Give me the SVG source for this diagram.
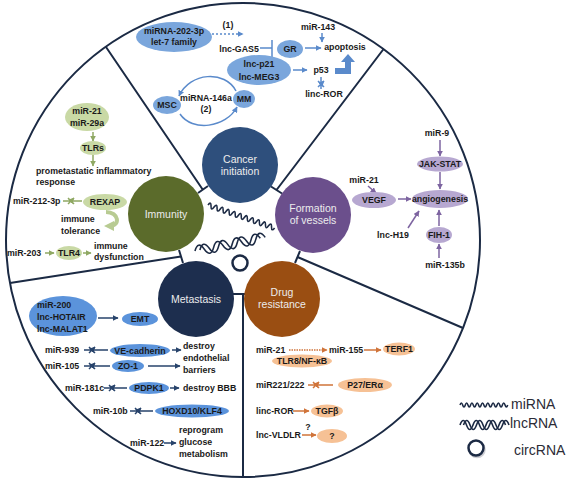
<svg xmlns="http://www.w3.org/2000/svg" width="567" height="481" viewBox="0 0 567 481">
<style>
.t{font-family:"Liberation Sans",Arial,sans-serif;font-weight:bold;font-size:8.8px;fill:#1a1a1a}
.m{text-anchor:middle}
.c{font-family:"Liberation Sans",Arial,sans-serif;font-size:10.5px;fill:#ececec;text-anchor:middle}
.lg{font-family:"Liberation Sans",Arial,sans-serif;font-size:14px;fill:#2b2b36}
.div{stroke:#1b2a44;stroke-width:2;fill:none}
.ab{stroke:#5a8acb;stroke-width:1.5;fill:none}
.an{stroke:#27436b;stroke-width:1.5;fill:none}
.ag{stroke:#8fa863;stroke-width:1.5;fill:none}
.ap{stroke:#7d64a0;stroke-width:1.5;fill:none}
.ao{stroke:#d0743a;stroke-width:1.5;fill:none}
.eb{fill:#7aa6dc}
.en{fill:#5b93db}
.eg{fill:#c9d9a5}
.ep{fill:#b7a8d1}
.eo{fill:#f6c195}
.dna{stroke:#1c2a44;stroke-width:1.6;fill:none}
</style>
<defs>
<marker id="hb" viewBox="0 0 10 10" refX="9" refY="5" markerWidth="6" markerHeight="6" markerUnits="userSpaceOnUse" orient="auto"><path d="M0,0L10,5L0,10z" fill="#5a8acb"/></marker>
<marker id="hn" viewBox="0 0 10 10" refX="9" refY="5" markerWidth="6" markerHeight="6" markerUnits="userSpaceOnUse" orient="auto"><path d="M0,0L10,5L0,10z" fill="#27436b"/></marker>
<marker id="hg" viewBox="0 0 10 10" refX="9" refY="5" markerWidth="6" markerHeight="6" markerUnits="userSpaceOnUse" orient="auto"><path d="M0,0L10,5L0,10z" fill="#8fa863"/></marker>
<marker id="hg2" viewBox="0 0 10 10" refX="5" refY="5" markerWidth="10" markerHeight="10" markerUnits="userSpaceOnUse" orient="auto"><path d="M0,0L10,5L0,10z" fill="#b8cb92"/></marker>
<marker id="hp" viewBox="0 0 10 10" refX="9" refY="5" markerWidth="6" markerHeight="6" markerUnits="userSpaceOnUse" orient="auto"><path d="M0,0L10,5L0,10z" fill="#7d64a0"/></marker>
<marker id="ho" viewBox="0 0 10 10" refX="9" refY="5" markerWidth="6" markerHeight="6" markerUnits="userSpaceOnUse" orient="auto"><path d="M0,0L10,5L0,10z" fill="#d0743a"/></marker>
</defs>
<rect width="567" height="481" fill="#fff"/>

<g id="frame">
<circle cx="243" cy="240" r="237" class="div"/>
<path class="div" d="M106,47L203,190M198,193L208,186M383.6,49L276.5,190M271,186.5L282,193.5M463,328L297.5,257M300,251L295,263M10,283L181,256.5M179,250L183,263M233,294L245,294M243,294L243,477"/>
</g>

<g id="hubs">
<g id="hub-cancer"><circle cx="240" cy="165" r="38" fill="#2e4f7c"/><text class="c" x="240" y="163">Cancer</text><text class="c" x="240" y="175">initiation</text></g>
<g id="hub-immunity"><circle cx="166" cy="214" r="38" fill="#5b6b2b"/><text class="c" x="166" y="218">Immunity</text></g>
<g id="hub-vessels"><circle cx="313" cy="215" r="38" fill="#6b4f8c"/><text class="c" x="313" y="212">Formation</text><text class="c" x="313" y="224">of vessels</text></g>
<g id="hub-metastasis"><circle cx="196" cy="299" r="38" fill="#1d2e4e"/><text class="c" x="196" y="303">Metastasis</text></g>
<g id="hub-drug"><circle cx="282" cy="299" r="38" fill="#9a4e12"/><text class="c" x="282" y="296">Drug</text><text class="c" x="282" y="308">resistance</text></g>
</g>

<g id="center-symbols">
<path class="dna" transform="translate(208,205) rotate(19)" d="M0,0q1.6,-5 3.2,0t3.2,0t3.2,0t3.2,0t3.2,0t3.2,0t3.2,0t3.2,0t3.2,0t3.2,0t3.2,0t3.2,0t3.2,0t3.2,0t3.2,0t3.2,0t3.2,0t3.2,0t3.2,0t3.2,0t3.2,0t3.2,0"/>
<g transform="translate(195,251) rotate(-11)">
<path class="dna" d="M0,0q4.75,-10 9.5,0t9.5,0t9.5,0t9.5,0t9.5,0t9.5,0t9.5,0"/>
<path class="dna" d="M5,0q4.75,-10 9.5,0t9.5,0t9.5,0t9.5,0t9.5,0t9.5,0t9.5,0"/>
</g>
<circle cx="240" cy="263" r="7.5" fill="#fff" stroke="#1c2a44" stroke-width="2.5"/>
</g>

<g id="connectors">
<path class="ab" stroke-dasharray="2,2" d="M212,34L243,34" marker-end="url(#hb)"/>
<path class="ab" stroke-width="2" d="M260,48L272,48M272,40L272,57"/>
<path class="ab" d="M305,48L321,48" marker-end="url(#hb)"/>
<path class="ab" d="M322,33L322,42" marker-end="url(#hb)"/>
<path class="ab" d="M293,70L307,70" marker-end="url(#hb)"/>
<path d="M335,68L345,68L345,62L341,62L348,54L355,62L351,62L351,74L335,74Z" fill="#5a8acb"/>
<path class="ab" d="M321,89L321,77M318,81L324,87M318,87L324,81" marker-end="url(#hb)"/>
<path class="ab" d="M236,91C225,70 190,72 179,96" marker-end="url(#hb)"/>
<path class="ab" d="M180,114C192,132 226,128 237,107" marker-end="url(#hb)"/>
<path class="ap" d="M440,140L440,156" marker-end="url(#hp)"/>
<path class="ap" d="M440,172L440,189" marker-end="url(#hp)"/>
<path class="ap" d="M439,226L439,210" marker-end="url(#hp)"/>
<path class="ap" d="M439,258L439,244" marker-end="url(#hp)"/>
<path class="ap" d="M398,199L411,199" marker-end="url(#hp)"/>
<path class="ap" d="M368,186L376,193" marker-end="url(#hp)"/>
<path class="ap" d="M408,228L419,211" marker-end="url(#hp)"/>
<path class="ag" d="M93,132L93,141" marker-end="url(#hg)"/>
<path class="ag" d="M93,155L93,166" marker-end="url(#hg)"/>
<path class="ag" d="M63,201L82,201M68,198L74,204M68,204L74,198" marker-end="url(#hg)"/>
<path d="M106,212C119,212 121,226 109,226" stroke="#b8cb92" stroke-width="4" fill="none" marker-end="url(#hg2)"/>
<path class="ag" d="M45,253L54,253" marker-end="url(#hg)"/>
<path class="ag" d="M83,253L91,253" marker-end="url(#hg)"/>
<path class="an" d="M98,318L118,318" marker-end="url(#hn)"/>
<path class="an" d="M84,350L108,350M89,347L95,353M89,353L95,347" marker-end="url(#hn)"/>
<path class="an" d="M172,350L181,350" marker-end="url(#hn)"/>
<path class="an" d="M84,366L110,366M89,363L95,369M89,369L95,363" marker-end="url(#hn)"/>
<path class="an" d="M148,366L180,366" marker-end="url(#hn)"/>
<path class="an" d="M104,388L127,388M109,385L115,391M109,391L115,385" marker-end="url(#hn)"/>
<path class="an" d="M170,388L179,388" marker-end="url(#hn)"/>
<path class="an" d="M130,411L153,411M135,408L141,414M135,414L141,408" marker-end="url(#hn)"/>
<path class="an" d="M164,443L176,443" marker-end="url(#hn)"/>
<path class="ao" stroke-width="2" stroke-dasharray="1.5,1" d="M289,350L327,350" marker-end="url(#ho)"/>
<path class="ao" d="M364,350L381,350" marker-end="url(#ho)"/>
<path class="ao" d="M308,385L333,385M313,382L319,388M313,388L319,382" marker-end="url(#ho)"/>
<path class="ao" d="M293,411L309,411" marker-end="url(#ho)"/>
<path class="ao" d="M302,435L316,435" marker-end="url(#ho)"/>
</g>

<g id="cancer-nodes">
<g id="n-mirna202"><ellipse class="eb" cx="174" cy="37" rx="38" ry="15"/><text class="t m" x="174" y="33.5">miRNA-202-3p</text><text class="t m" x="174" y="45">let-7 family</text></g>
<text class="t m" x="228" y="28">(1)</text>
<text class="t m" x="239" y="51.5">lnc-GAS5</text>
<g id="n-gr"><ellipse class="eb" cx="290" cy="49" rx="13" ry="9"/><text class="t m" x="290" y="52">GR</text></g>
<text class="t m" x="345" y="50">apoptosis</text>
<text class="t m" x="318" y="30">miR-143</text>
<g id="n-lncp21"><ellipse class="eb" cx="259" cy="70" rx="32" ry="15"/><text class="t m" x="259" y="66.5">lnc-p21</text><text class="t m" x="259" y="79.5">lnc-MEG3</text></g>
<text class="t m" x="321" y="73">p53</text>
<text class="t m" x="324" y="97">linc-ROR</text>
<g id="n-msc"><ellipse class="eb" cx="167" cy="105" rx="14" ry="9"/><text class="t m" x="167" y="108">MSC</text></g>
<g id="n-mm"><ellipse class="eb" cx="244" cy="99" rx="11" ry="9"/><text class="t m" x="244" y="102">MM</text></g>
<text class="t m" x="206" y="101">miRNA-146a</text>
<text class="t m" x="206" y="112">(2)</text>
</g>

<g id="vessel-nodes">
<text class="t m" x="437" y="136">miR-9</text>
<g id="n-jak"><ellipse class="ep" cx="440" cy="164" rx="23" ry="7.5"/><text class="t m" x="440" y="167">JAK-STAT</text></g>
<g id="n-angio"><ellipse class="ep" cx="440" cy="199" rx="28" ry="9"/><text class="t m" x="440" y="202">angiogenesis</text></g>
<g id="n-fih"><ellipse class="ep" cx="439" cy="235" rx="13" ry="8"/><text class="t m" x="439" y="238">FIH-1</text></g>
<text class="t m" x="445" y="268">miR-135b</text>
<g id="n-vegf"><ellipse class="ep" cx="374" cy="200" rx="22" ry="8"/><text class="t m" x="374" y="203">VEGF</text></g>
<text class="t m" x="364" y="183">miR-21</text>
<text class="t m" x="393" y="238">lnc-H19</text>
</g>

<g id="immunity-nodes">
<g id="n-mir21"><ellipse class="eg" cx="87" cy="117" rx="22" ry="14"/><text class="t m" x="87" y="113.5">miR-21</text><text class="t m" x="87" y="125.5">miR-29a</text></g>
<g id="n-tlrs"><ellipse class="eg" cx="93" cy="148" rx="13" ry="7"/><text class="t m" x="93" y="151">TLRs</text></g>
<text class="t" x="36" y="174">prometastatic inflammatory</text>
<text class="t" x="36" y="185">response</text>
<text class="t" x="13" y="204">miR-212-3p</text>
<g id="n-rexap"><ellipse class="eg" cx="105" cy="202" rx="22" ry="8"/><text class="t m" x="105" y="205">REXAP</text></g>
<text class="t" x="61" y="222">immune</text>
<text class="t" x="61" y="234">tolerance</text>
<text class="t" x="7" y="256">miR-203</text>
<g id="n-tlr4"><ellipse class="eg" cx="69" cy="253" rx="13" ry="7"/><text class="t m" x="69" y="256">TLR4</text></g>
<text class="t" x="94" y="249">immune</text>
<text class="t" x="94" y="260">dysfunction</text>
</g>

<g id="metastasis-nodes">
<g id="n-mir200"><ellipse class="en" cx="63" cy="316" rx="34" ry="20"/><text class="t" x="37" y="308">miR-200</text><text class="t" x="37" y="320">lnc-HOTAIR</text><text class="t" x="37" y="332">lnc-MALAT1</text></g>
<g id="n-emt"><ellipse class="en" cx="140" cy="319" rx="18" ry="7"/><text class="t m" x="140" y="322">EMT</text></g>
<text class="t" x="45" y="353">miR-939</text>
<g id="n-ve"><ellipse class="en" cx="140" cy="350.5" rx="30" ry="6.5"/><text class="t m" x="140" y="353.5">VE-cadherin</text></g>
<text class="t" x="183" y="349">destroy</text>
<text class="t" x="183" y="361">endothelial</text>
<text class="t" x="183" y="373">barriers</text>
<text class="t" x="45" y="369">miR-105</text>
<g id="n-zo1"><ellipse class="en" cx="128" cy="366" rx="16" ry="6"/><text class="t m" x="128" y="369">ZO-1</text></g>
<text class="t" x="65" y="391">miR-181c</text>
<g id="n-pdpk1"><ellipse class="en" cx="149" cy="388" rx="20" ry="6"/><text class="t m" x="149" y="391">PDPK1</text></g>
<text class="t" x="183" y="391">destroy BBB</text>
<text class="t" x="93" y="414">miR-10b</text>
<g id="n-hoxd"><ellipse class="en" cx="192" cy="411" rx="37" ry="6.5"/><text class="t m" x="192" y="414">HOXD10/KLF4</text></g>
<text class="t" x="130" y="446">miR-122</text>
<text class="t" x="179" y="433">reprogram</text>
<text class="t" x="179" y="445">glucose</text>
<text class="t" x="179" y="457">metabolism</text>
</g>

<g id="drug-nodes">
<text class="t" x="256" y="353">miR-21</text>
<g id="n-tlr8"><ellipse class="eo" cx="302" cy="361" rx="30" ry="6.5"/><text class="t m" x="302" y="364">TLR8/NF-κB</text></g>
<text class="t" x="329" y="353">miR-155</text>
<g id="n-terf1"><ellipse class="eo" cx="399" cy="349" rx="16" ry="6.5"/><text class="t m" x="399" y="352">TERF1</text></g>
<text class="t" x="256" y="388">miR221/222</text>
<g id="n-p27"><ellipse class="eo" cx="365" cy="385" rx="27" ry="7"/><text class="t m" x="365" y="388">P27/ERα</text></g>
<text class="t" x="256" y="414">linc-ROR</text>
<g id="n-tgfb"><ellipse class="eo" cx="327" cy="411" rx="16" ry="6.5"/><text class="t m" x="327" y="414">TGFβ</text></g>
<text class="t" x="256" y="438">lnc-VLDLR</text>
<text class="t m" x="308" y="430">?</text>
<g id="n-q"><ellipse class="eo" cx="332" cy="436" rx="15" ry="7"/><text class="t m" x="332" y="439">?</text></g>
</g>

<g id="legend">
<path class="dna" transform="translate(460,405)" d="M0,0q1.33,-4 2.65,0t2.65,0t2.65,0t2.65,0t2.65,0t2.65,0t2.65,0t2.65,0t2.65,0t2.65,0t2.65,0t2.65,0t2.65,0t2.65,0t2.65,0t2.65,0t2.65,0t2.65,0"/>
<g transform="translate(460,425)">
<path class="dna" d="M0,0q3.25,-9 6.5,0t6.5,0t6.5,0t6.5,0t6.5,0t6.5,0t6.5,0"/>
<path class="dna" d="M3.5,0q3.25,-9 6.5,0t6.5,0t6.5,0t6.5,0t6.5,0t6.5,0t6.5,0"/>
</g>
<circle cx="477" cy="449.5" r="7.5" fill="none" stroke="#cfcfd4" stroke-width="2.5"/>
<circle cx="476" cy="448" r="7.5" fill="#fff" stroke="#1c2a44" stroke-width="2.5"/>
<text class="lg" x="511" y="409">miRNA</text>
<text class="lg" x="510" y="428">lncRNA</text>
<text class="lg" x="514" y="455">circRNA</text>
</g>
</svg>
